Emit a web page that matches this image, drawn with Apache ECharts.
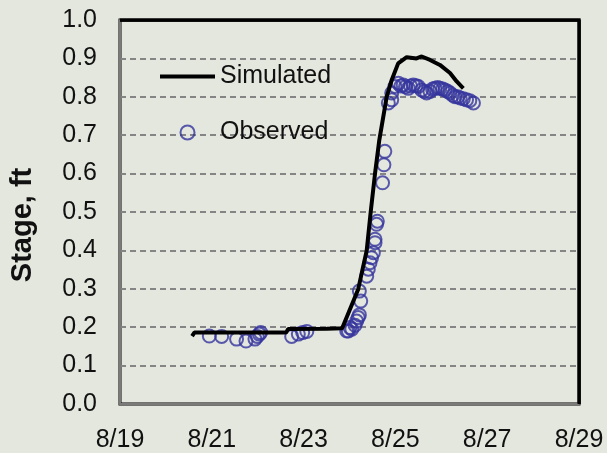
<!DOCTYPE html>
<html>
<head>
<meta charset="utf-8">
<script src="https://cdn.jsdelivr.net/npm/echarts@6/dist/echarts.min.js"></script>
<style>
  html, body { margin: 0; padding: 0; background: #e4e7de; }
  #chart { width: 607px; height: 453px; }
</style>
</head>
<body>
<div id="chart"></div>
<script>
// x values are days after 8/19 (0 = 8/19)
const xTickLabels = ['8/19', '8/21', '8/23', '8/25', '8/27', '8/29'];
const yTicks = [0.0, 0.1, 0.2, 0.3, 0.4, 0.5, 0.6, 0.7, 0.8, 0.9, 1.0];

const simDays  = [1.57, 1.62, 2.5, 3.62, 3.66, 4.5, 4.84, 4.87, 5.19, 5.375, 5.46, 5.556, 5.65, 5.81, 5.92, 6.06, 6.246, 6.46, 6.573, 6.754, 6.97, 7.19, 7.335, 7.48];
const simStage = [0.177, 0.186, 0.186, 0.186, 0.195, 0.196, 0.197, 0.2, 0.299, 0.40, 0.498, 0.60, 0.688, 0.80, 0.844, 0.887, 0.903, 0.90, 0.905, 0.896, 0.883, 0.862, 0.84, 0.822];

const obsDays  = [1.946, 2.215, 2.54, 2.745, 2.94, 2.99, 3.035, 3.065, 3.74, 3.885, 3.98, 4.07,
                  4.94, 4.975, 5.01, 5.05, 5.12, 5.155, 5.19, 5.215, 5.245, 5.215, 5.375, 5.41, 5.447, 5.48, 5.52, 5.556, 5.556, 5.59, 5.607,
                  5.72, 5.75, 5.77, 5.846, 5.92, 5.92, 5.99, 6.065, 6.12, 6.17, 6.22, 6.28, 6.33, 6.39, 6.45, 6.5, 6.57, 6.63, 6.68, 6.754,
                  6.81, 6.86, 6.92, 6.97, 7.03, 7.08, 7.14, 7.19, 7.25, 7.3, 7.36, 7.41, 7.48, 7.55, 7.62, 7.7];
const obsStage = [0.177, 0.176, 0.169, 0.164, 0.169, 0.176, 0.182, 0.186, 0.176, 0.182, 0.186, 0.189,
                  0.19, 0.19, 0.199, 0.195, 0.205, 0.216, 0.225, 0.232, 0.268, 0.294, 0.333, 0.351, 0.368, 0.381, 0.394, 0.42, 0.429, 0.468, 0.476,
                  0.576, 0.623, 0.658, 0.784, 0.792, 0.81, 0.827, 0.835, 0.828, 0.831, 0.826, 0.822, 0.828, 0.831, 0.829, 0.827, 0.818, 0.814, 0.81, 0.814,
                  0.82, 0.822, 0.824, 0.822, 0.82, 0.818, 0.814, 0.81, 0.804, 0.80, 0.80, 0.797, 0.795, 0.792, 0.79, 0.784];

const xMin = 0, xMax = 10, yMin = 0, yMax = 1;

const simData = simDays.map((d, i) => [d, simStage[i]]);
const obsData = obsDays.map((d, i) => [d, obsStage[i]]);

const FONT = "'Liberation Sans', Arial, sans-serif";
const chart = echarts.init(document.getElementById('chart'));
chart.setOption({
  animation: false,
  grid: { left: 120, right: 28, top: 20, bottom: 49, show: true, borderColor: '#000', borderWidth: 3 },
  legend: {
    orient: 'vertical',
    left: 160,
    top: 64,
    padding: 0,
    itemWidth: 55,
    itemHeight: 14,
    itemGap: 31,
    textStyle: { fontSize: 25, color: '#111', fontFamily: FONT },
    data: [
      { name: 'Simulated', icon: 'path://M0,0 L55,0 L55,4 L0,4 Z', itemStyle: { color: '#000' } },
      { name: 'Observed' }
    ]
  },
  xAxis: {
    type: 'value', min: xMin, max: xMax, interval: 2,
    axisLine: { show: true, onZero: false, lineStyle: { color: '#7a7a7a', width: 2 } },
    axisTick: { show: false },
    splitLine: { show: false },
    axisLabel: {
      fontSize: 25, color: '#111', margin: 24, fontFamily: FONT,
      formatter: v => xTickLabels[Math.round(v / 2)] || ''
    }
  },
  yAxis: {
    type: 'value', min: yMin, max: yMax, interval: 0.1,
    axisLine: { show: true, onZero: false, lineStyle: { color: '#7a7a7a', width: 2 } },
    axisTick: { show: false },
    splitLine: {
      show: true, showMinLine: false, showMaxLine: false,
      lineStyle: { color: '#858585', width: 2, type: [6, 4] }
    },
    axisLabel: {
      fontSize: 25, color: '#111', margin: 23, fontFamily: FONT,
      formatter: v => yTicks.find(t => Math.abs(t - v) < 1e-6).toFixed(1)
    }
  },
  series: [{
    name: 'Simulated',
    type: 'line',
    data: simData,
    showSymbol: false,
    symbol: 'none',
    lineStyle: { color: '#000', width: 4 },
    itemStyle: { color: '#000' },
    markLine: {
      silent: true,
      symbol: ['none', 'none'],
      label: { show: false },
      lineStyle: { color: '#000', width: 2.5, type: 'solid' },
      data: [{ yAxis: yMax }, { xAxis: xMax }]
    }
  }, {
    name: 'Observed',
    type: 'scatter',
    data: obsData,
    symbol: 'circle',
    symbolSize: 13,
    itemStyle: { color: 'rgba(0,0,0,0)', borderColor: '#34349e', borderWidth: 2 }
  }]
});

// y-axis title and the top/right frame edges, positioned through the chart's own scales
const tl = chart.convertToPixel({ gridIndex: 0 }, [xMin, yMax]);
const br = chart.convertToPixel({ gridIndex: 0 }, [xMax, yMin]);
chart.setOption({
  graphic: [{
    type: 'text',
    x: 23, y: 225,
    rotation: Math.PI / 2,
    z: 10,
    style: {
      text: 'Stage, ft',
      fontSize: 29, fontWeight: 'bold', fontFamily: FONT,
      fill: '#111', textAlign: 'center', textVerticalAlign: 'middle'
    }
  }, {
    type: 'polyline',
    z: 10,
    shape: { points: [[tl[0], tl[1]], [br[0], tl[1]], [br[0], br[1]]] },
    style: { stroke: '#000', lineWidth: 3, fill: null }
  }]
});
</script>
</body>
</html>
